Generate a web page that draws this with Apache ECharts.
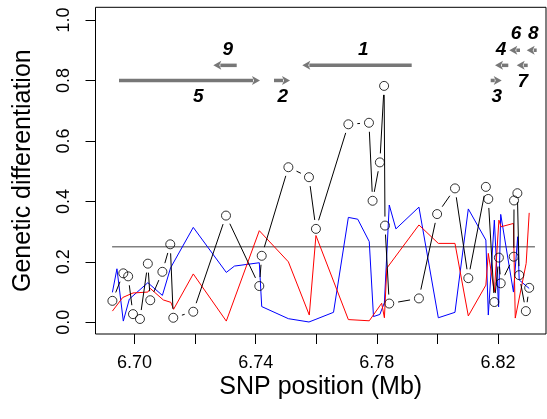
<!DOCTYPE html>
<html><head><meta charset="utf-8">
<script src="https://cdn.jsdelivr.net/npm/echarts@6/dist/echarts.min.js"></script>
<style>html,body{margin:0;padding:0;background:#fff}#c{width:547px;height:419px}</style>
</head><body><div id="c"></div>
<script>
// Black series (points joined with gapped lines)
const blackX = [6.6927, 6.6963, 6.6979, 6.6995, 6.7018, 6.7044, 6.7052, 6.7092, 6.7118, 6.7128, 6.7194, 6.7302, 6.7412, 6.7420, 6.7508, 6.7576, 6.7599, 6.7706, 6.7774, 6.7786, 6.7810, 6.7824, 6.7827, 6.7841, 6.7939, 6.7999, 6.8058, 6.8102, 6.8160, 6.8168, 6.8188, 6.8203, 6.8209, 6.8252, 6.8253, 6.8264, 6.8270, 6.8292, 6.8303];
const blackY = [0.071, 0.162, 0.152, 0.027, 0.011, 0.194, 0.073, 0.167, 0.258, 0.015, 0.035, 0.353, 0.120, 0.220, 0.513, 0.480, 0.309, 0.655, 0.660, 0.402, 0.529, 0.782, 0.320, 0.062, 0.079, 0.358, 0.443, 0.146, 0.448, 0.408, 0.067, 0.214, 0.129, 0.217, 0.403, 0.427, 0.156, 0.037, 0.114];
// Blue series
const blueX = [6.6927, 6.6942, 6.6963, 6.6983, 6.7044, 6.7092, 6.7119, 6.7194, 6.7303, 6.7330, 6.7412, 6.7420, 6.7508, 6.7576, 6.7599, 6.7657, 6.7706, 6.7737, 6.7775, 6.7789, 6.7810, 6.7825, 6.7841, 6.7863, 6.7939, 6.8003, 6.8058, 6.8102, 6.8160, 6.8168, 6.8188, 6.8202, 6.8209, 6.8251, 6.8265, 6.8270, 6.8303];
const blueY = [0.099, 0.177, 0.004, 0.077, 0.131, 0.089, 0.180, 0.314, 0.165, 0.186, 0.197, 0.052, 0.012, 0.001, 0.010, 0.033, 0.347, 0.341, 0.267, 0.019, 0.026, 0.065, 0.388, 0.309, 0.381, 0.015, 0.033, 0.375, 0.272, 0.024, 0.338, 0.051, 0.357, 0.100, 0.283, 0.140, 0.112];
// Red series
const redX = [6.6927, 6.6961, 6.6995, 6.7044, 6.7052, 6.7095, 6.7120, 6.7129, 6.7194, 6.7303, 6.7412, 6.7508, 6.7577, 6.7599, 6.7706, 6.7775, 6.7816, 6.7825, 6.7833, 6.7939, 6.8003, 6.8058, 6.8102, 6.8160, 6.8168, 6.8188, 6.8203, 6.8210, 6.8251, 6.8257, 6.8293, 6.8303];
const redY = [0.037, 0.082, 0.097, 0.100, 0.112, 0.074, 0.066, 0.043, 0.160, 0.004, 0.303, 0.200, 0.024, 0.287, 0.009, 0.005, 0.063, 0.015, 0.179, 0.322, 0.261, 0.261, 0.021, 0.123, 0.228, 0.100, 0.338, 0.316, 0.327, 0.014, 0.195, 0.362];
// Threshold line
const thresholdX = [6.6926, 6.8322];
const thresholdY = [0.25, 0.25];
// Genes (arrows)
const geneStart = [6.79151, 6.74605, 6.81759, 6.82340, 6.69488, 6.82727, 6.82981, 6.83278, 6.73374];
const geneEnd   = [6.75540, 6.75134, 6.82123, 6.81902, 6.74143, 6.82374, 6.82618, 6.82948, 6.72602];
const geneY     = [0.85, 0.80, 0.80, 0.85, 0.80, 0.90, 0.85, 0.90, 0.85];
const geneLabel  = ['1', '2', '3', '4', '5', '6', '7', '8', '9'];
const geneLabelX = [6.77556, 6.74893, 6.81958, 6.82100, 6.72106, 6.82595, 6.82816, 6.83166, 6.73077];
const geneLabelY = [0.903, 0.746, 0.746, 0.901, 0.746, 0.954, 0.796, 0.954, 0.903];
// Tick labels
const xTickLabels = ['6.70', '6.74', '6.78', '6.82'];
const yTickLabels = ['0.0', '0.2', '0.4', '0.6', '0.8', '1.0'];

const FONT = 'Liberation Sans, Arial, sans-serif';
const zip = (a, b) => a.map((v, i) => [v, b[i]]);
const hidden = {axisLine: {show: false}, axisTick: {show: false}, axisLabel: {show: false}, splitLine: {show: false}};

const chart = echarts.init(document.getElementById('c'), null, {renderer: 'canvas'});
chart.setOption({
  animation: false,
  backgroundColor: '#fff',
  grid: [
    {left: 95.5, right: 1, top: 7.3, bottom: 85, show: true, borderColor: '#000', borderWidth: 1, backgroundColor: 'transparent'},
    {left: 134.5, right: 49, top: 7.3, bottom: 85},
    {left: 95.5, right: 1, top: 20, bottom: 96.7}
  ],
  xAxis: [
    Object.assign({gridIndex: 0, type: 'value', min: 6.68712, max: 6.83585,
     name: 'SNP position (Mb)', nameLocation: 'middle', nameGap: 41,
     nameTextStyle: {fontSize: 25, fontFamily: FONT, color: '#000'}}, hidden),
    {gridIndex: 1, type: 'value', min: 6.70, max: 6.82, interval: 0.02,
     axisLine: {show: false}, splitLine: {show: false},
     axisTick: {show: true, inside: false, length: 10, lineStyle: {color: '#000', width: 1}},
     axisLabel: {show: true, margin: 20, fontSize: 18, fontFamily: FONT, color: '#000',
       formatter: v => { const s = v.toFixed(2); return xTickLabels.includes(s) ? s : ''; }}},
    Object.assign({gridIndex: 2, type: 'value', min: 0, max: 1}, hidden)
  ],
  yAxis: [
    Object.assign({gridIndex: 0, type: 'value', min: -0.0387, max: 1.042,
     name: 'Genetic differentiation', nameLocation: 'middle', nameGap: 60,
     nameTextStyle: {fontSize: 25, fontFamily: FONT, color: '#000'}}, hidden),
    Object.assign({gridIndex: 1, type: 'value', min: 0, max: 1}, hidden),
    {gridIndex: 2, type: 'value', min: 0, max: 1, interval: 0.2,
     axisLine: {show: false}, splitLine: {show: false},
     axisTick: {show: true, inside: false, length: 10, lineStyle: {color: '#000', width: 1}},
     axisLabel: {show: true, rotate: 90, margin: 22, fontSize: 18, fontFamily: FONT, color: '#000',
       formatter: v => yTickLabels[Math.round(v * 5)] || ''}}
  ],
  series: [
    {type: 'line', xAxisIndex: 0, yAxisIndex: 0, data: zip(thresholdX, thresholdY), showSymbol: false, silent: true,
     lineStyle: {color: '#808080', width: 1.5}, z: 1},
    {type: 'line', xAxisIndex: 0, yAxisIndex: 0, data: zip(blueX, blueY), showSymbol: false, silent: true,
     lineStyle: {color: '#0000ff', width: 1}, z: 2},
    {type: 'line', xAxisIndex: 0, yAxisIndex: 0, data: zip(redX, redY), showSymbol: false, silent: true,
     lineStyle: {color: '#ff0000', width: 1}, z: 3},
    {type: 'custom', xAxisIndex: 0, yAxisIndex: 0, silent: true, z: 4,
     data: blackX.slice(0, -1).map((x, i) => [x, blackY[i], blackX[i + 1], blackY[i + 1]]),
     encode: {x: [0, 2], y: [1, 3]},
     renderItem: (params, api) => {
       const p0 = api.coord([api.value(0), api.value(1)]);
       const p1 = api.coord([api.value(2), api.value(3)]);
       const dx = p1[0] - p0[0], dy = p1[1] - p0[1], d = Math.hypot(dx, dy);
       const g = 9;
       if (d <= 2 * g + 0.5) return {type: 'group', children: []};
       const ux = dx / d, uy = dy / d;
       return {type: 'line', shape: {x1: p0[0] + ux * g, y1: p0[1] + uy * g, x2: p1[0] - ux * g, y2: p1[1] - uy * g},
               style: {stroke: '#000', lineWidth: 1}};
     }},
    {type: 'scatter', xAxisIndex: 0, yAxisIndex: 0, data: zip(blackX, blackY), symbol: 'circle', symbolSize: 9, silent: true, z: 5,
     itemStyle: {color: 'rgba(0,0,0,0)', borderColor: '#000', borderWidth: 1}},
    {type: 'custom', xAxisIndex: 0, yAxisIndex: 0, silent: true, z: 6,
     data: geneStart.map((s, i) => [s, geneEnd[i], geneY[i]]),
     encode: {x: [0, 1], y: 2},
     renderItem: (params, api) => {
       const y = api.value(2);
       const p0 = api.coord([api.value(0), y]);
       const p1 = api.coord([api.value(1), y]);
       const dir = Math.sign(p1[0] - p0[0]);
       const hl = 8, hw = 4.5;
       const base = p1[0] - dir * hl;
       const children = [];
       if ((base - p0[0]) * dir > 0) {
         children.push({type: 'line', shape: {x1: p0[0], y1: p0[1], x2: base + dir * 1, y2: p1[1]},
                        style: {stroke: '#777', lineWidth: 3.5}});
       }
       children.push({type: 'polygon', shape: {points: [[p1[0], p1[1]], [base, p1[1] - hw], [base + dir * 2, p1[1]], [base, p1[1] + hw]]},
                      style: {fill: '#777'}});
       return {type: 'group', children};
     }},
    {type: 'custom', xAxisIndex: 0, yAxisIndex: 0, silent: true, z: 7,
     data: geneLabel.map((t, i) => [geneLabelX[i], geneLabelY[i], i]),
     encode: {x: 0, y: 1},
     renderItem: (params, api) => {
       const p = api.coord([api.value(0), api.value(1)]);
       return {type: 'text', x: p[0], y: p[1],
               style: {text: geneLabel[api.value(2)], fill: '#000', align: 'center', verticalAlign: 'middle',
                       font: 'italic bold 19px ' + FONT}};
     }}
  ]
});
</script></body></html>
